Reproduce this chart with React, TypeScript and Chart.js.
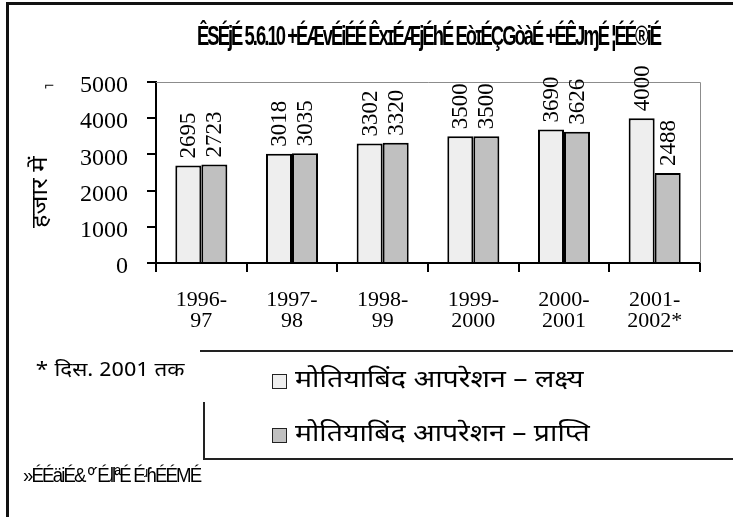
import React, { useEffect, useLayoutEffect, useRef } from "react";
import { Chart, registerables } from "chart.js";

Chart.register(...registerables);

const categories: string[][] = [
  ["1996-", "97"],
  ["1997-", "98"],
  ["1998-", "99"],
  ["1999-", "2000"],
  ["2000-", "2001"],
  ["2001-", "2002*"],
];
const targetValues = [2695, 3018, 3302, 3500, 3690, 4000];
const achievementValues = [2723, 3035, 3320, 3500, 3626, 2488];
const yMin = 0;
const yMax = 5000;
const yStep = 1000;
const seriesNames = ["मोतियाबिंद आपरेशन – लक्ष्य", "मोतियाबिंद आपरेशन – प्राप्ति"];
const seriesColors = ["#eeeeee", "#c0c0c0"];
const titleText = "ÊSÉjÉ 5.6.10 +ÉÆvÉiÉÉ ÊxɪÉÆjÉhÉ EòɪÉÇGòàÉ +ÉÊJɱÉ ¦ÉÉ®iÉ";
const yAxisTitle = "हजार में";
const footnoteText = "* दिस. 2001 तक";
const sourceText = "»ÉÉäiÉ& º´ÉɺlªÉ ÉʴɦÉÉMÉ";

const SERIF = "'Liberation Serif', 'Times New Roman', serif";
const DEVA = "'Noto Sans Devanagari', 'Noto Sans', sans-serif";

const plotFrame = {
  id: "plotFrame",
  beforeDatasetsDraw(chart: any) {
    const { ctx, chartArea } = chart;
    const { left, top, right, bottom } = chartArea;
    ctx.save();
    ctx.strokeStyle = "#8c8c8c";
    ctx.lineWidth = 1;
    ctx.beginPath();
    ctx.moveTo(left, Math.round(top) + 0.5);
    ctx.lineTo(Math.round(right) + 0.5, Math.round(top) + 0.5);
    ctx.lineTo(Math.round(right) + 0.5, bottom);
    ctx.stroke();
    ctx.restore();
  },
};

const valueLabels = {
  id: "valueLabels",
  afterDatasetsDraw(chart: any) {
    const { ctx } = chart;
    ctx.save();
    ctx.fillStyle = "#000";
    ctx.font = `23px ${SERIF}`;
    ctx.textAlign = "left";
    ctx.textBaseline = "middle";
    chart.data.datasets.forEach((ds: any, di: number) => {
      const meta = chart.getDatasetMeta(di);
      meta.data.forEach((el: any, i: number) => {
        ctx.save();
        ctx.translate(el.x, el.y - 7);
        ctx.rotate(-Math.PI / 2);
        ctx.fillText(String(ds.data[i]), 0, 1);
        ctx.restore();
      });
    });
    ctx.restore();
  },
};

function FitText(props: { text: string; width: number; style: React.CSSProperties }) {
  const ref = useRef<HTMLSpanElement | null>(null);
  useLayoutEffect(() => {
    const el = ref.current;
    if (!el) return;
    const w = el.offsetWidth;
    if (w > 0) el.style.transform = `scaleX(${props.width / w})`;
  }, [props.text, props.width]);
  return (
    <span
      ref={ref}
      style={{ display: "inline-block", whiteSpace: "pre", transformOrigin: "0 50%", ...props.style }}
    >
      {props.text}
    </span>
  );
}

export default function App() {
  const canvasRef = useRef<HTMLCanvasElement | null>(null);

  useEffect(() => {
    const canvas = canvasRef.current;
    if (!canvas) return;
    const chart = new Chart(canvas, {
      type: "bar",
      data: {
        labels: categories,
        datasets: [
          {
            label: seriesNames[0],
            data: targetValues,
            backgroundColor: seriesColors[0],
            borderColor: "#000",
            borderWidth: 2,
            barPercentage: 1,
            categoryPercentage: 0.574,
          },
          {
            label: seriesNames[1],
            data: achievementValues,
            backgroundColor: seriesColors[1],
            borderColor: "#000",
            borderWidth: 2,
            barPercentage: 1,
            categoryPercentage: 0.574,
          },
        ],
      },
      options: {
        responsive: false,
        animation: false,
        devicePixelRatio: 1,
        layout: { padding: { left: 0, top: 82, right: 33, bottom: 164 } },
        plugins: {
          legend: { display: false },
          title: { display: false },
          tooltip: { enabled: false },
        },
        scales: {
          x: {
            offset: true,
            grid: {
              offset: true,
              drawOnChartArea: false,
              drawTicks: true,
              tickLength: 9,
              color: "#000",
              lineWidth: 2,
            },
            border: { display: true, color: "#000", width: 2 },
            ticks: {
              color: "#000",
              padding: 18,
              maxRotation: 0,
              autoSkip: false,
              font: { family: SERIF, size: 22, lineHeight: 0.95 },
            },
            afterFit(scale: any) {
              scale.height = 90;
            },
          },
          y: {
            min: yMin,
            max: yMax,
            grid: {
              drawOnChartArea: false,
              drawTicks: true,
              tickLength: 9,
              color: "#000",
              lineWidth: 2,
            },
            border: { display: true, color: "#000", width: 2 },
            ticks: {
              stepSize: yStep,
              color: "#000",
              padding: 19,
              labelOffset: 4,
              font: { family: SERIF, size: 24 },
              callback: (v: any) => String(v),
            },
            afterFit(scale: any) {
              scale.width = 156;
            },
          },
        },
      },
      plugins: [plotFrame, valueLabels],
    });
    return () => chart.destroy();
  }, []);

  const abs = (s: React.CSSProperties): React.CSSProperties => ({ position: "absolute", ...s });

  return (
    <div style={abs({ left: 0, top: 0, width: 733, height: 517, background: "#fff", overflow: "hidden" })}>
      <div style={abs({ left: 6, top: 2, width: 740, height: 530, borderTop: "3px solid #111", borderLeft: "3px solid #111" })} />
      <canvas ref={canvasRef} width={733} height={517} style={abs({ left: 0, top: 0, display: "block" })} />
      <div style={abs({ left: 197, top: 20, lineHeight: "34px", color: "#000" })}>
        <FitText
          text={titleText}
          width={463}
          style={{ font: "bold 28px 'Liberation Sans', Arial, sans-serif", letterSpacing: "-3px" }}
        />
      </div>
      <div style={abs({ left: 44, top: 78, font: "13px 'DejaVu Sans', sans-serif", color: "#000" })}>⌐</div>
      <div
        style={abs({
          left: 42 - 36,
          top: 192 - 15,
          width: 72,
          height: 30,
          lineHeight: "30px",
          transform: "rotate(-90deg)",
          transformOrigin: "50% 50%",
          color: "#000",
        })}
      >
        <FitText text={yAxisTitle} width={72} style={{ font: `22px ${DEVA}` }} />
      </div>
      {/* legend box */}
      <div style={abs({ left: 200, top: 350, width: 540, height: 2, background: "#222" })} />
      <div style={abs({ left: 203, top: 402, width: 2, height: 58, background: "#222" })} />
      <div style={abs({ left: 203, top: 458, width: 540, height: 2, background: "#222" })} />
      {seriesNames.map((name, i) => (
        <div
          key={i}
          style={abs({
            left: 272,
            top: i === 0 ? 366 : 420,
            height: 30,
            display: "flex",
            alignItems: "center",
            whiteSpace: "nowrap",
            color: "#000",
          })}
        >
          <span
            style={{
              display: "inline-block",
              width: 13,
              height: 13,
              background: seriesColors[i],
              border: "1.5px solid #222",
              marginRight: 8,
            }}
          />
          <FitText text={name} width={i === 0 ? 288 : 295} style={{ font: `24px ${DEVA}`, lineHeight: "30px" }} />
        </div>
      ))}
      <div style={abs({ left: 35, top: 357, lineHeight: "28px", color: "#000" })}>
        <FitText text={footnoteText} width={150} style={{ font: `19px ${DEVA}` }} />
      </div>
      <div style={abs({ left: 23, top: 464, lineHeight: "26px", color: "#000" })}>
        <FitText
          text={sourceText}
          width={177}
          style={{ font: "20px 'Liberation Sans', Arial, sans-serif", letterSpacing: "-2px" }}
        />
      </div>
    </div>
  );
}
